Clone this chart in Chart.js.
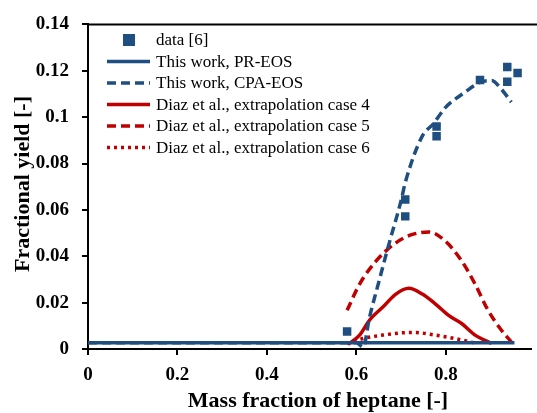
<!DOCTYPE html>
<html>
<head>
<meta charset="utf-8">
<script src="https://cdn.jsdelivr.net/npm/chart.js@4.4.1/dist/chart.umd.min.js"></script>
<style>
  html, body { margin: 0; padding: 0; background: #fff; }
  #wrap { width: 537px; height: 413px; position: relative; }
</style>
</head>
<body>
<div id="wrap"><canvas id="chart" width="537" height="413"></canvas></div>
<script>
// ---- data ----
const expX = [0.579, 0.709, 0.709, 0.779, 0.779, 0.876, 0.937, 0.937, 0.960];
const expY = [0.0075, 0.0645, 0.0572, 0.0960, 0.0918, 0.1160, 0.1216, 0.1153, 0.1190];

const prX = [0, 0.953];
const prY = [0.0027, 0.0027];

const cpaX = [0, 0.60, 0.615, 0.629, 0.650, 0.670, 0.699, 0.710, 0.747, 0.772, 0.798, 0.843, 0.876, 0.902, 0.924, 0.946];
const cpaY = [0.0027, 0.0027, 0.0008, 0.0135, 0.0290, 0.0435, 0.0635, 0.0725, 0.0918, 0.0972, 0.1040, 0.1108, 0.1150, 0.1158, 0.1120, 0.1065];

const case4X = [0.581, 0.607, 0.629, 0.659, 0.688, 0.717, 0.747, 0.776, 0.806, 0.835, 0.865, 0.902];
const case4Y = [0.0020, 0.0060, 0.0124, 0.0181, 0.0237, 0.0262, 0.0237, 0.0195, 0.0145, 0.0110, 0.0060, 0.0024];

const case5X = [0.579, 0.607, 0.644, 0.688, 0.725, 0.762, 0.798, 0.835, 0.865, 0.894, 0.924, 0.946];
const case5Y = [0.0167, 0.0280, 0.0380, 0.0458, 0.0494, 0.0505, 0.0466, 0.0380, 0.0280, 0.0167, 0.0081, 0.0031];

const case6X = [0.579, 0.615, 0.659, 0.717, 0.730, 0.776, 0.820, 0.871];
const case6Y = [0.0023, 0.0045, 0.0060, 0.0071, 0.0071, 0.0060, 0.0045, 0.0023];

const xTicks = [0, 0.2, 0.4, 0.6, 0.8];
const legendLabels = [
  'data [6]',
  'This work, PR-EOS',
  'This work, CPA-EOS',
  'Diaz et al., extrapolation case 4',
  'Diaz et al., extrapolation case 5',
  'Diaz et al., extrapolation case 6'
];

const BLUE = '#1f4e80';
const RED = '#c00000';
const SERIF = '"Liberation Serif", "Times New Roman", serif';

const pts = (xs, ys) => xs.map((x, i) => ({ x, y: ys[i] }));

function lineSet(label, xs, ys, color, dash) {
  return {
    label,
    data: pts(xs, ys),
    showLine: true,
    borderColor: color,
    borderWidth: 3.5,
    borderDash: dash,
    pointRadius: 0,
    cubicInterpolationMode: 'monotone',
    fill: false
  };
}

// legend + axis titles + top frame line
const decor = {
  id: 'decor',
  afterDraw(chart) {
    const c = chart.ctx;
    const a = chart.chartArea;
    c.save();
    c.strokeStyle = '#000';
    c.lineWidth = 2;
    c.beginPath();
    c.moveTo(a.left, a.top);
    c.lineTo(537, a.top);
    c.stroke();

    // axis titles
    c.fillStyle = '#000';
    c.font = 'bold 22px ' + SERIF;
    c.textAlign = 'center';
    c.textBaseline = 'middle';
    c.fillText('Mass fraction of heptane [-]', 318, 401);
    c.translate(23, 184);
    c.rotate(-Math.PI / 2);
    c.fillText('Fractional yield [-]', 0, 0);
    c.restore();

    // legend
    c.save();
    c.font = '17px ' + SERIF;
    c.textAlign = 'left';
    c.textBaseline = 'middle';
    chart.data.datasets.forEach((ds, i) => {
      const y = 40 + i * 21.5;
      if (i === 0) {
        c.fillStyle = BLUE;
        c.fillRect(123, y - 6, 12, 12);
      } else {
        c.strokeStyle = ds.borderColor;
        c.lineWidth = 3.5;
        c.setLineDash(ds.borderDash || []);
        c.beginPath();
        c.moveTo(107, y);
        c.lineTo(150, y);
        c.stroke();
        c.setLineDash([]);
      }
      c.fillStyle = '#000';
      c.fillText(legendLabels[i], 156, y + 1);
    });
    c.restore();
  }
};

new Chart(document.getElementById('chart'), {
  type: 'scatter',
  data: {
    datasets: [
      {
        label: legendLabels[0],
        data: pts(expX, expY),
        pointStyle: 'rect',
        pointRadius: 6,
        backgroundColor: BLUE,
        borderColor: BLUE,
        borderWidth: 0,
        order: 0
      },
      lineSet(legendLabels[1], prX, prY, BLUE, []),
      lineSet(legendLabels[2], cpaX, cpaY, BLUE, [9, 5]),
      lineSet(legendLabels[3], case4X, case4Y, RED, []),
      lineSet(legendLabels[4], case5X, case5Y, RED, [9, 5]),
      lineSet(legendLabels[5], case6X, case6Y, RED, [3, 4])
    ]
  },
  options: {
    responsive: false,
    animation: false,
    layout: { padding: { top: 19, right: 1, left: 0, bottom: 0 } },
    plugins: { legend: { display: false }, tooltip: { enabled: false } },
    scales: {
      x: {
        type: 'linear',
        min: 0,
        max: 0.99,
        afterBuildTicks(s) { s.ticks = xTicks.map(v => ({ value: v })); },
        afterFit(s) { s.height = 64; },
        border: { color: '#000', width: 2 },
        grid: { drawOnChartArea: false, color: '#000', lineWidth: 2, tickLength: 6 },
        ticks: {
          color: '#000',
          padding: 9,
          maxRotation: 0,
          font: { family: SERIF, size: 19, weight: 'bold' },
          callback: v => String(v)
        }
      },
      y: {
        min: 0,
        max: 0.14,
        afterFit(s) { s.width = 88; },
        border: { color: '#000', width: 2 },
        grid: { drawOnChartArea: false, color: '#000', lineWidth: 2, tickLength: 6 },
        ticks: {
          color: '#000',
          stepSize: 0.02,
          padding: 13,
          font: { family: SERIF, size: 19, weight: 'bold' },
          callback: v => String(Math.round(v * 100) / 100)
        }
      }
    }
  },
  plugins: [decor]
});
</script>
</body>
</html>
